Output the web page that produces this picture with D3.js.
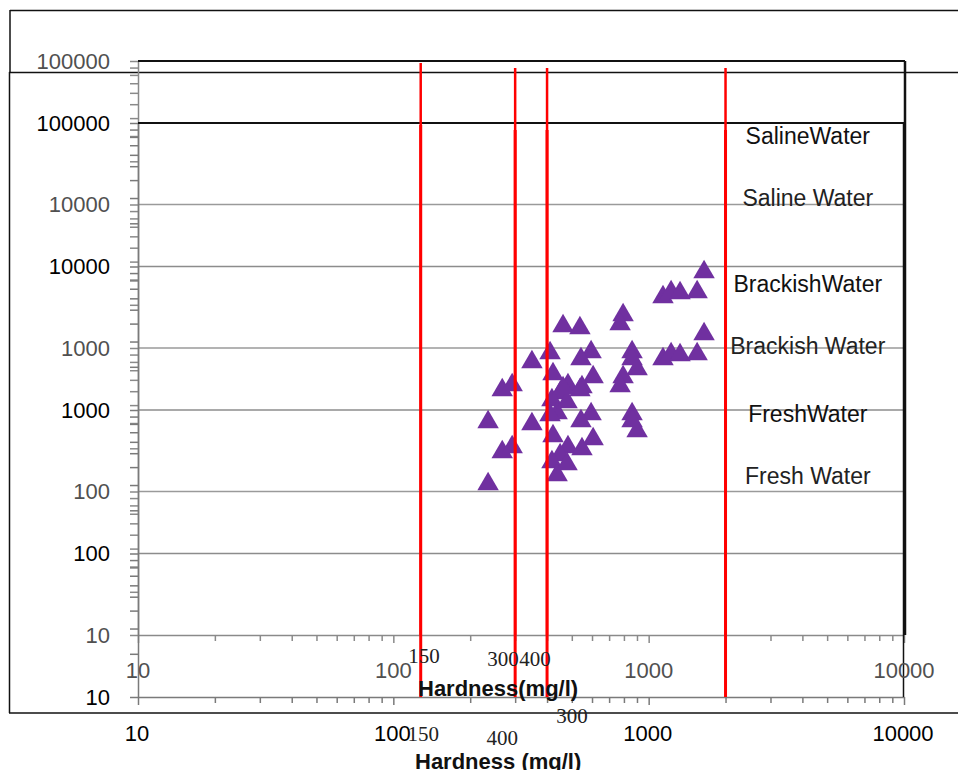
<!DOCTYPE html>
<html><head><meta charset="utf-8">
<script src="https://cdn.jsdelivr.net/npm/d3@7"></script>
<style>body{margin:0;background:#fff}svg{display:block}</style>
</head><body><svg id="c" width="958" height="770"></svg>
<script>
// ---- data ----
const hardness = [235,267,292,349,411,422,462,538,595,543,606,483,548,450,418,438,479,794,773,861,901,861,1138,1224,1327,1548,1648];
const tds      = [320,535,580,838,968,692,1494,1446,984,879,659,580,561,510,456,370,441,1782,1542,984,749,879,2377,2576,2535,2576,3556];
const yTickValues = [10,100,1000,10000,100000];
const yTickLabels = ["10","100","1000","10000","100000"];
const xTickValues = [10,100,1000,10000];
const xTickLabels = ["10","100","1000","10000"];
const limitValues = [128,300,400,2000];
const limitTops = [96800,89400,89400,89400];
const zoneValues = [11100,1032,128];
const zoneLabelsA = ["Saline Water","Brackish Water","Fresh Water"];
const zoneValuesB = [81100,7550,937];
const zoneLabelsB = ["SalineWater","BrackishWater","FreshWater"];
const zoneX = 4200;
const limLabA = ["150","300","400"], limLabAx = [132,269,359];
const limLabB = ["150","400","300"], limLabBx = [131,267,501];
const xTitleA = "Hardness(mg/l)", xTitleB = "Hardness (mg/l)";

const svg = d3.select('#c');
svg.append('rect').attr('width',958).attr('height',770).attr('fill','#fff');

const A = {top:61,bottom:635,left:138,right:904,grid:'#9a9a9a',axis:'#8a8a8a',text:'#505050',lineW:2.5};
const B = {top:123,bottom:697,left:138,right:904,grid:'#8c8c8c',axis:'#7a7a7a',text:'#000',lineW:3};
[A,B].forEach(c=>{
  c.x = d3.scaleLog().domain([10,10000]).range([c.left,c.right]);
  c.y = d3.scaleLog().domain([10,100000]).range([c.bottom,c.top]);
});

const FONT = "'Liberation Sans', Arial, sans-serif";
const SERIF = "'Liberation Serif', 'Times New Roman', serif";

const yMinor = [];
for (let e=1;e<5;e++) for (let m=1;m<10;m++) yMinor.push(m*Math.pow(10,e));
yMinor.push(100000);
const xMajor = xTickValues;
const xMinor = [];
for (let e=1;e<4;e++) for (let m=2;m<10;m++) xMinor.push(m*Math.pow(10,e));

function drawFrame(c){
  const g = svg.append('g');
  g.selectAll('line.grid').data(yTickValues.slice(1,4)).join('line')
    .attr('x1',c.left).attr('x2',c.right).attr('y1',d=>c.y(d)).attr('y2',d=>c.y(d))
    .attr('stroke',c.grid).attr('stroke-width',1.5);
  const ya = g.append('g').attr('transform',`translate(${c.left},0)`)
    .call(d3.axisLeft(c.y).tickValues(yMinor).tickSize(8).tickSizeOuter(0).tickFormat(''));
  ya.selectAll('path,line').attr('stroke',c.axis).attr('stroke-width',1.5);
  const xa = g.append('g').attr('transform',`translate(0,${c.bottom})`)
    .call(d3.axisBottom(c.x).tickValues(xMajor).tickSize(8).tickSizeOuter(0).tickFormat(''));
  xa.selectAll('path,line').attr('stroke',c.axis).attr('stroke-width',1.5);
  const xm = g.append('g').attr('transform',`translate(0,${c.bottom})`)
    .call(d3.axisBottom(c.x).tickValues(xMinor).tickSize(6).tickSizeOuter(0).tickFormat(''));
  xm.select('path').remove();
  xm.selectAll('line').attr('stroke',c.axis).attr('stroke-width',1.5);
  g.append('line').attr('x1',c.left).attr('x2',c.right+1).attr('y1',c.top).attr('y2',c.top)
    .attr('stroke','#111').attr('stroke-width',2);
  return g;
}

// outer frames
const fr = svg.append('g').attr('stroke','#111').attr('stroke-width',1.5).attr('fill','none');
fr.append('line').attr('x1',10).attr('x2',958).attr('y1',10.5).attr('y2',10.5);
fr.append('line').attr('x1',10).attr('x2',10).attr('y1',10).attr('y2',72);
fr.append('line').attr('x1',9).attr('x2',958).attr('y1',72.5).attr('y2',72.5);
fr.append('line').attr('x1',9.5).attr('x2',9.5).attr('y1',72).attr('y2',713);
fr.append('line').attr('x1',9).attr('x2',958).attr('y1',713).attr('y2',713);

drawFrame(A);
drawFrame(B);
svg.append('line').attr('x1',905).attr('x2',905).attr('y1',A.top).attr('y2',A.bottom)
  .attr('stroke','#111').attr('stroke-width',2.5);
svg.append('line').attr('x1',903.5).attr('x2',903.5).attr('y1',B.top).attr('y2',B.bottom)
  .attr('stroke','#111').attr('stroke-width',1.5);

// triangles (shifted so the marker's box is centred on the value)
const triSize = 200;
const triShift = Math.sqrt(triSize/(Math.sqrt(3)*3))/2;
const tri = d3.symbol().type(d3.symbolTriangle).size(triSize);
[A,B].forEach(c=>{
  svg.append('g').selectAll('path').data(hardness.map((h,i)=>[h,tds[i]])).join('path')
    .attr('d',tri).attr('transform',d=>`translate(${c.x(d[0])},${c.y(d[1])+triShift})`)
    .attr('fill','#7030A0');
});

// limit lines
[A,B].forEach(c=>{
  svg.append('g').selectAll('line').data(limitValues).join('line')
    .attr('x1',d=>c.x(d)).attr('x2',d=>c.x(d))
    .attr('y1',(d,i)=>c.y(limitTops[i])).attr('y2',c.y(10))
    .attr('stroke','#ff0000').attr('stroke-width',c.lineW);
});

// y labels
[A,B].forEach(c=>{
  svg.append('g').selectAll('text').data(yTickValues).join('text')
    .attr('x',110).attr('y',d=>c.y(d)).attr('dy','0.36em').attr('text-anchor','end')
    .attr('font-family',FONT).attr('font-size',22).attr('fill',c.text)
    .text((d,i)=>yTickLabels[i]);
});
// x labels
svg.append('g').selectAll('text').data(xTickValues).join('text')
  .attr('x',d=>A.x(d)).attr('y',670).attr('dy','0.36em').attr('text-anchor','middle')
  .attr('font-family',FONT).attr('font-size',22).attr('fill',A.text).text((d,i)=>xTickLabels[i]);
svg.append('g').selectAll('text').data(xTickValues).join('text')
  .attr('x',d=>B.x(d)-1).attr('y',733).attr('dy','0.36em').attr('text-anchor','middle')
  .attr('font-family',FONT).attr('font-size',22).attr('fill',B.text).text((d,i)=>xTickLabels[i]);

// limit labels
const limA = svg.append('g').attr('font-family',SERIF).attr('font-size',21).attr('fill','#222');
limA.append('text').attr('x',A.x(limLabAx[0])).attr('y',655).attr('dy','0.36em').attr('text-anchor','middle').text(limLabA[0]);
limA.append('text').attr('x',A.x(limLabAx[1])).attr('y',658).attr('dy','0.36em').attr('text-anchor','middle').text(limLabA[1]);
limA.append('text').attr('x',A.x(limLabAx[2])).attr('y',658).attr('dy','0.36em').attr('text-anchor','middle').text(limLabA[2]);
const limB = svg.append('g').attr('font-family',SERIF).attr('font-size',21).attr('fill','#222');
limB.append('text').attr('x',B.x(limLabBx[0])).attr('y',733).attr('dy','0.36em').attr('text-anchor','middle').text(limLabB[0]);
limB.append('text').attr('x',B.x(limLabBx[1])).attr('y',737).attr('dy','0.36em').attr('text-anchor','middle').text(limLabB[1]);
limB.append('text').attr('x',B.x(limLabBx[2])).attr('y',715).attr('dy','0.36em').attr('text-anchor','middle').text(limLabB[2]);

// axis titles
svg.append('text').attr('x',418).attr('y',688).attr('dy','0.36em').attr('font-family',FONT)
  .attr('font-weight','bold').attr('font-size',22).attr('fill','#111').text(xTitleA);
svg.append('text').attr('x',415).attr('y',761).attr('dy','0.36em').attr('font-family',FONT)
  .attr('font-weight','bold').attr('font-size',22).attr('fill','#111').text(xTitleB);

// zone labels
svg.append('g').selectAll('text').data(zoneValues).join('text')
  .attr('x',A.x(zoneX)).attr('y',d=>A.y(d)).attr('dy','0.36em').attr('text-anchor','middle')
  .attr('font-family',FONT).attr('font-size',23).attr('fill','#222').text((d,i)=>zoneLabelsA[i]);
svg.append('g').selectAll('text').data(zoneValuesB).join('text')
  .attr('x',B.x(zoneX)).attr('y',d=>B.y(d)).attr('dy','0.36em').attr('text-anchor','middle')
  .attr('font-family',FONT).attr('font-size',23).attr('fill','#111').text((d,i)=>zoneLabelsB[i]);
</script>
</body></html>
